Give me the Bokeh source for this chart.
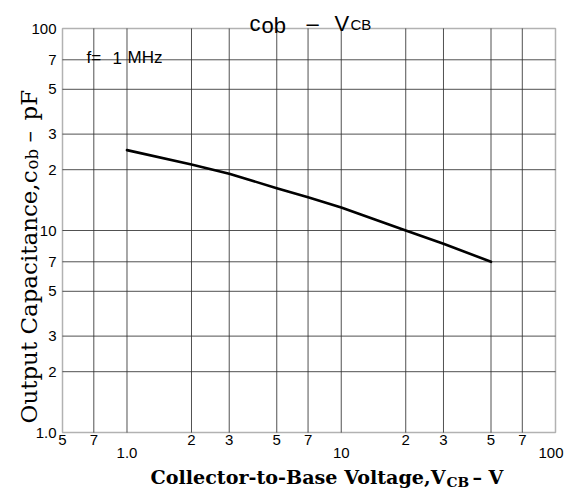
import os, struct, math
from bokeh.plotting import figure
from bokeh.models import FixedTicker, Label, Range1d, BoxAnnotation
from bokeh.embed import file_html
from bokeh.resources import INLINE

# ---- data ----
vcb = [1.0, 2.0, 3.0, 5.0, 7.0, 10.0, 20.0, 30.0, 50.0]
cob = [25.0, 21.2, 19.1, 16.2, 14.6, 13.0, 10.0, 8.6, 7.0]

x_ticks = [0.5, 0.7, 1.0, 2.0, 3.0, 5.0, 7.0, 10.0, 20.0, 30.0, 50.0, 70.0, 100.0]
x_tick_labels = ["5", "7", "1.0", "2", "3", "5", "7", "10", "2", "3", "5", "7", "100"]
x_decades = [1.0, 10.0, 100.0]
y_ticks = [1.0, 2.0, 3.0, 5.0, 7.0, 10.0, 20.0, 30.0, 50.0, 70.0, 100.0]
y_tick_labels = ["1.0", "2", "3", "5", "7", "10", "2", "3", "5", "7", "100"]
x_grid = [0.7, 1.0, 2.0, 3.0, 5.0, 7.0, 10.0, 20.0, 30.0, 50.0, 70.0]
y_grid = [2.0, 3.0, 5.0, 7.0, 10.0, 20.0, 30.0, 50.0, 70.0]
x_lim = (0.5, 100.0)
y_lim = (1.0, 100.0)
note_parts = ["f=", "1", "MHz"]


# ---- font metrics (to size the composed titles) ----
def find_font(name):
    for root in ["/usr/share/fonts", "/usr/local/share/fonts", os.path.expanduser("~/.fonts")]:
        for dp, dn, fn in os.walk(root):
            if name in fn:
                return os.path.join(dp, name)
    return None


class Metrics:
    def __init__(self, fname, fallback=0.6):
        self.ok = False
        self.fallback = fallback
        try:
            path = find_font(fname)
            data = open(path, "rb").read()
            num = struct.unpack(">H", data[4:6])[0]
            tables = {}
            for i in range(num):
                tag, cs, off, ln = struct.unpack(">4sIII", data[12 + 16 * i:28 + 16 * i])
                tables[tag.decode("latin1")] = off
            h = tables["head"]
            self.upem = struct.unpack(">H", data[h + 18:h + 20])[0]
            hh = tables["hhea"]
            nh = struct.unpack(">H", data[hh + 34:hh + 36])[0]
            hm = tables["hmtx"]
            self.adv = [struct.unpack(">H", data[hm + 4 * i:hm + 4 * i + 2])[0] for i in range(nh)]
            cm = tables["cmap"]
            n = struct.unpack(">H", data[cm + 2:cm + 4])[0]
            sub = None
            for i in range(n):
                pid, eid, off = struct.unpack(">HHI", data[cm + 4 + 8 * i:cm + 12 + 8 * i])
                if pid == 3 and eid == 1:
                    sub = cm + off
            fmt = struct.unpack(">H", data[sub:sub + 2])[0]
            if fmt != 4:
                raise ValueError
            segx2 = struct.unpack(">H", data[sub + 6:sub + 8])[0]
            seg = segx2 // 2
            self.seg = seg
            self.ends = struct.unpack(">%dH" % seg, data[sub + 14:sub + 14 + segx2])
            self.starts = struct.unpack(">%dH" % seg, data[sub + 16 + segx2:sub + 16 + 2 * segx2])
            self.deltas = struct.unpack(">%dh" % seg, data[sub + 16 + 2 * segx2:sub + 16 + 3 * segx2])
            self.ro_pos = sub + 16 + 3 * segx2
            self.ros = struct.unpack(">%dH" % seg, data[self.ro_pos:self.ro_pos + segx2])
            self.data = data
            self.ok = True
        except Exception:
            self.ok = False

    def gid(self, ch):
        code = ord(ch)
        for i in range(self.seg):
            if self.ends[i] >= code:
                if self.starts[i] > code:
                    return 0
                if self.ros[i] == 0:
                    return (code + self.deltas[i]) & 0xFFFF
                addr = self.ro_pos + 2 * i + self.ros[i] + 2 * (code - self.starts[i])
                g = struct.unpack(">H", self.data[addr:addr + 2])[0]
                return (g + self.deltas[i]) & 0xFFFF if g else 0
        return 0

    def width(self, text, size):
        if not self.ok:
            return self.fallback * size * len(text)
        tot = 0
        for ch in text:
            g = self.gid(ch)
            tot += self.adv[g] if g < len(self.adv) else self.adv[-1]
        return tot * size / self.upem


SANS = "Liberation Sans"
SERIF = "DejaVu Serif"
m_serif = Metrics("DejaVuSerif.ttf", 0.56)
m_serif_b = Metrics("DejaVuSerif-Bold.ttf", 0.62)

# ---- layout (canvas pixels) ----
W, H = 565, 489
BOX_L, BOX_R, BOX_T, BOX_B = 62, 555, 28, 432      # pixel box of the data area
TICK_FS = 15

# the figure frame fills the whole canvas; ranges are widened so that the data
# limits fall on the pixel box above (texts around the box stay unclipped)
lx0, lx1 = math.log10(x_lim[0]), math.log10(x_lim[1])
ly0, ly1 = math.log10(y_lim[0]), math.log10(y_lim[1])
kx = (BOX_R - BOX_L) / (lx1 - lx0)
ky = (BOX_B - BOX_T) / (ly1 - ly0)
xr = (10 ** (lx0 - BOX_L / kx), 10 ** (lx1 + (W - BOX_R) / kx))
yr = (10 ** (ly0 - (H - BOX_B) / ky), 10 ** (ly1 + BOX_T / ky))

p = figure(width=W, height=H, x_axis_type="log", y_axis_type="log", title=None,
           x_range=Range1d(*xr), y_range=Range1d(*yr),
           output_backend="svg", toolbar_location=None,
           min_border_left=0, min_border_right=0, min_border_top=0, min_border_bottom=0)
p.background_fill_color = "white"
p.border_fill_color = "white"
p.outline_line_color = None
p.xgrid.visible = False
p.ygrid.visible = False

# axes drawn at the edges of the data box
x_over = {t: ("" if t in x_decades else lab) for t, lab in zip(x_ticks, x_tick_labels)}
y_over = {t: lab for t, lab in zip(y_ticks, y_tick_labels)}
p.xaxis.fixed_location = y_lim[0]
p.yaxis.fixed_location = x_lim[0]
for ax, ticks, over, lim in ((p.xaxis[0], x_ticks, x_over, x_lim), (p.yaxis[0], y_ticks, y_over, y_lim)):
    ax.ticker = FixedTicker(ticks=ticks)
    ax.major_label_overrides = over
    ax.bounds = lim
    ax.axis_line_color = None
    ax.major_tick_line_color = None
    ax.minor_tick_line_color = None
    ax.major_tick_in = 0
    ax.major_tick_out = 0
    ax.major_label_text_font = SANS
    ax.major_label_text_font_size = "%dpx" % TICK_FS
    ax.major_label_text_color = "black"
p.xaxis.major_label_standoff = 2
p.yaxis.major_label_standoff = 6

# grid lines, limited to the data box
GRID = dict(line_color="#333333", line_width=1, line_alpha=0.85)
p.segment(x0=x_grid, x1=x_grid, y0=[y_lim[0]] * len(x_grid), y1=[y_lim[1]] * len(x_grid), **GRID)
p.segment(x0=[x_lim[0]] * len(y_grid), x1=[x_lim[1]] * len(y_grid), y0=y_grid, y1=y_grid, **GRID)
# data box border
p.add_layout(BoxAnnotation(left=x_lim[0], right=x_lim[1], bottom=y_lim[0], top=y_lim[1],
                           fill_color=None, line_color="black", line_width=1.5))

# curve
p.line(vcb, cob, line_color="black", line_width=2.6, line_join="round", line_cap="round")


# ---- texts ----
def piece(text, cx, cy, font, size, style="normal", angle=0.0, align="left",
          baseline="alphabetic", data_x=None, x_offset=0):
    """cx, cy: canvas pixel position (from top-left) of the text anchor."""
    kw = dict(x=cx, x_units="screen") if data_x is None else dict(x=data_x, x_units="data")
    p.add_layout(Label(y=H - cy, y_units="screen", text=text, x_offset=x_offset,
                       text_font=font, text_font_size="%gpx" % size, text_font_style=style,
                       text_align=align, text_baseline=baseline, angle=angle,
                       text_color="black", **kw))


# decade labels on the x axis (set lower, as in the reference)
for t, lab in zip(x_ticks, x_tick_labels):
    if t in x_decades:
        if t < x_lim[1]:
            piece(lab, 0, 447, SANS, TICK_FS, align="center", baseline="top", data_x=t)
        else:
            piece(lab, 0, 447, SANS, TICK_FS, align="right", baseline="top", data_x=t, x_offset=8)

# title  c_ob - V_CB
piece("c", 249, 23, SANS, 22)
piece("ob", 261, 24.5, SANS, 22)
piece("\u2013", 306, 23, SANS, 22)
piece("V", 334, 23, SANS, 22)
piece("CB", 350, 23.5, SANS, 15)

# note inside the plot
piece(note_parts[0], 86, 57, SANS, 17)
piece(note_parts[1], 112, 57, SANS, 17)
piece(note_parts[2], 127, 57, SANS, 17)

# x axis title: main part right-aligned where the subscript starts
xs = 297.0 / m_serif_b.width("Collector-to-Base Voltage,V", 1.0)
piece("Collector-to-Base Voltage,V", 445, 477, SERIF, xs, "bold", align="right")
piece("CB", 446, 481, SERIF, xs * 0.72, "bold")
piece("\u2013", 472, 477, SERIF, xs, "bold")
piece("V", 488, 477, SERIF, xs, "bold")

# y axis title (vertical, reading upwards)
ys = 253.0 / m_serif.width("Output Capacitance,c", 1.0)
up = math.pi / 2
piece("Output Capacitance,c", 28, 170, SERIF, ys, angle=up, align="right")
piece("ob", 32, 169, SERIF, ys * 0.72, angle=up)
piece("\u2013", 28, 142, SERIF, ys, angle=up)
piece("pF", 28, 120, SERIF, ys, angle=up)

open("out.html", "w").write(file_html(p, INLINE))
